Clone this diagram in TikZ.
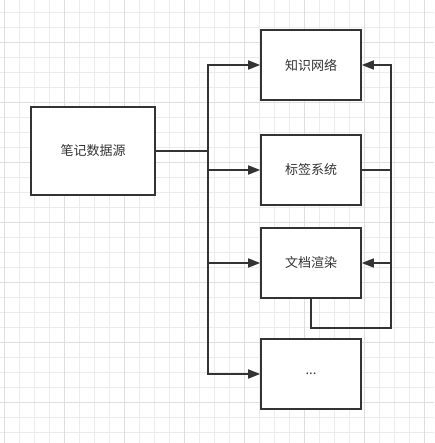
\documentclass[tikz,border=0pt]{standalone}
\usepackage{fontspec}
\newfontfamily\cjk{Noto Sans CJK SC}
\usetikzlibrary{arrows.meta}
\definecolor{ink}{HTML}{333333}
\definecolor{gridminor}{HTML}{EBEBEB}
\definecolor{gridmajor}{HTML}{DEDEDE}
\tikzset{
	block/.style={draw=ink, line width=1.6pt, fill=white, minimum width=100pt, minimum height=70pt, inner sep=0pt},
	link/.style={draw=ink, line width=1.6pt},
	tip/.style={link, -{Triangle[length=12pt, width=9pt]}}
}

\begin{document}
\begin{tikzpicture}[every node/.style={font=\cjk\fontsize{13}{15}\selectfont, text=ink}, x=1pt, y=-1pt]
	\useasboundingbox[fill=white] (0,0) rectangle (434,443);
	\foreach \k in {0,...,28} {\draw[gridminor, line width=0.8pt] (4+15*\k,0) -- (4+15*\k,443);}
	\foreach \k in {0,...,29} {\draw[gridminor, line width=0.8pt] (0,12.3+15*\k) -- (434,12.3+15*\k);}
	\foreach \k in {0,4,...,28} {\draw[gridmajor, line width=0.8pt] (4+15*\k,0) -- (4+15*\k,443);}
	\foreach \k in {2,6,...,26} {\draw[gridmajor, line width=0.8pt] (0,12.3+15*\k) -- (434,12.3+15*\k);}
	\node[block, minimum width=124pt, minimum height=88pt] (src) at (93,151) {笔记数据源};
	\node[block] (knet) at (311,65) {知识网络};
	\node[block] (tags) at (311,170) {标签系统};
	\node[block] (docs) at (311,263) {文档渲染};
	\node[block] (more) at (311,374) {...};
	\coordinate (split) at (208,151);
	\coordinate (tagsR) at (391,170);
	\coordinate (docsE) at (391,263);
	\coordinate (docsR) at (391,328);
	\draw[link] (src) -- (split);
	\draw[tip] (split) |- (knet);
	\draw[tip] (split) |- (tags);
	\draw[tip] (split) |- (docs);
	\draw[tip] (split) |- (more);
	\draw[tip] (tags.east) -- (tagsR) |- (knet.east);
	\draw[link] (docs.south) |- (docsR) -- (tagsR);
	\draw[tip] (docsE) -- (docs.east);
\end{tikzpicture}
\end{document}
